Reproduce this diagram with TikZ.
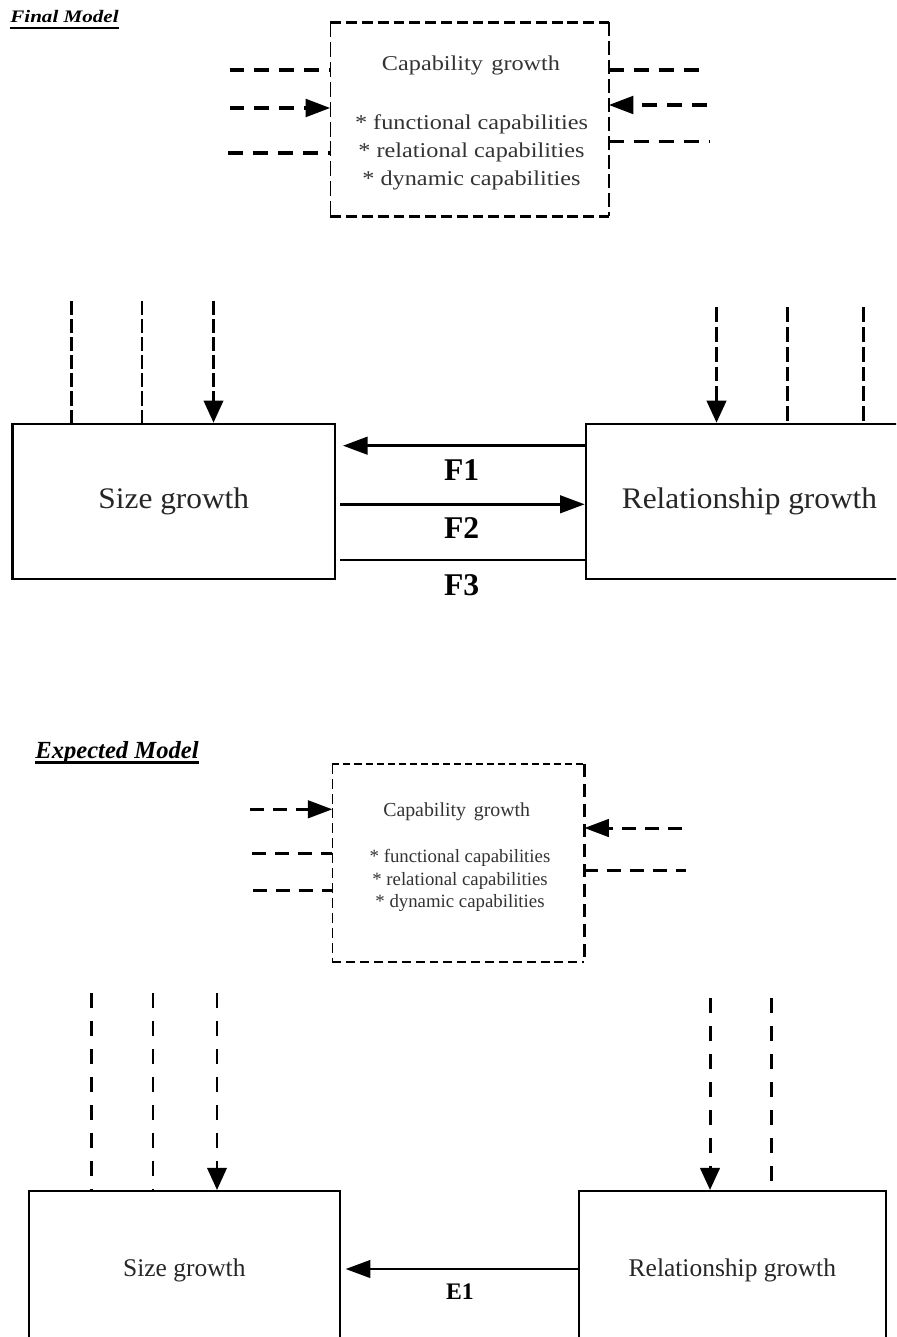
\documentclass[tikz,border=0pt]{standalone}
\usepackage{fontspec}
\setmainfont{Liberation Serif}
\newfontfamily\capwide[FakeStretch=1.15]{Liberation Serif}
\newfontfamily\boxwide[FakeStretch=1.05]{Liberation Serif}
\newfontfamily\headwide[FakeStretch=1.2]{Liberation Serif}
\usetikzlibrary{arrows.meta,calc}
\def\pxu{0.02cm}

\tikzset{
  heading/.style={inner sep=0,anchor=base west},
  growbox/.style={draw,line width=1.5pt,inner sep=0,text=black!85},
  growboxlow/.style={draw,line width=1.2pt,inner sep=0,text=black!85},
  capframe/.style={inner sep=0},
  captext/.style={inner sep=0,text=black!80},
  flabel/.style={inner sep=0,font=\bfseries\fontsize{18}{20}\selectfont},
  tip/.style={-{Triangle[length=14pt,width=10pt]}},
  tipv/.style={-{Triangle[length=12.5pt,width=11pt]}},
  link/.style={line width=1.5pt},
  linklow/.style={line width=1.3pt},
  % dashed feeds into the capability boxes
  feedtop/.style={line width=2pt,dash pattern=on 8.5pt off 5.7pt},
  feedlow/.style={line width=1.7pt,dash pattern=on 8pt off 5pt},
  % dashed feeds into the growth boxes
  vleft/.style={line width=1.4pt,dash pattern=on 8pt off 2.3pt},
  vright/.style={line width=1.7pt,dash pattern=on 8.5pt off 2.8pt},
  vlow/.style={line width=1.4pt,dash pattern=on 8.5pt off 7.4pt},
  vlowright/.style={line width=1.7pt,dash pattern=on 8.5pt off 7.4pt},
  % frame sides of the capability boxes
  frameA/.style={line width=1.7pt,dash pattern=on 6.2pt off 2.8pt},
  frameAleft/.style={line width=0.6pt,dash pattern=on 8.5pt off 2.8pt},
  frameAright/.style={line width=1.1pt,dash pattern=on 8pt off 2.8pt},
  frameBtop/.style={line width=1.1pt,dash pattern=on 4pt off 2.3pt},
  frameBleft/.style={line width=0.6pt,dash pattern=on 5.7pt off 2.8pt},
  frameBright/.style={line width=1.7pt,dash pattern=on 7.4pt off 4pt},
  frameBbottom/.style={line width=1.1pt,dash pattern=on 5.1pt off 2.8pt},
}

\begin{document}
\begin{tikzpicture}[x=0.02cm,y=-0.02cm]
\useasboundingbox (0,0) rectangle (896,1337);
\fill[white] (0,0) rectangle (896,1337);
\clip (0,0) rectangle (896,1337);

% ---------------- Final Model ----------------
\node[heading,font=\headwide\bfseries\itshape\fontsize{10}{12}\selectfont] (hfinal) at (10,22.7) {Final Model};
\draw[line width=1.2pt] ($(hfinal.base west)+(0,5.6)$) -- ($(hfinal.base east)+(0,5.6)$);

% capability box
\node[capframe,minimum width=277.8*\pxu,minimum height=193.3*\pxu] (cap1) at (469.5,119.35) {};
\draw[frameA] (cap1.north west) -- (cap1.north east);
\draw[frameA] (cap1.south west) -- (cap1.south east);
\draw[frameAleft] (cap1.north west) -- (cap1.south west);
\draw[frameAright] (cap1.north east) -- (cap1.south east);
\node[captext,font=\capwide\fontsize{12}{14}\selectfont] (cap1t) at (471,65) {Capability\hspace{0.4em}growth};
\node[captext,align=center,font=\capwide\fontsize{12}{15.9}\selectfont] (cap1l) at (471.5,152)
  {* functional capabilities\\ * relational capabilities\\ * dynamic capabilities};

\path (229.5,70) coordinate (a1) (229.5,108) coordinate (a2) (228,153) coordinate (a3);
\path (702.6,70) coordinate (b1) (707,105) coordinate (b2) (709,141.7) coordinate (b3);
\draw[feedtop] (a1) -- (a1 -| cap1.west);
\draw[feedtop,tip] (a2) -- (a2 -| cap1.west);
\draw[feedtop] (a3) -- (a3 -| cap1.west);
\draw[feedtop] (b1 -| cap1.east) -- (b1);
\draw[feedtop,tip] (b2) -- (b2 -| cap1.east);
\draw[feedtop] (b3 -| cap1.east) -- (b3);

% growth boxes
\node[growbox,minimum width=322.4*\pxu,minimum height=155*\pxu,font=\boxwide\fontsize{17}{20}\selectfont] (sg1) at (173.8,501.5) {Size growth};
\node[growbox,minimum width=327*\pxu,minimum height=155*\pxu,font=\boxwide\fontsize{17}{20}\selectfont] (rg1) at (749.5,501.5) {Relationship growth};

\path (71.7,301) coordinate (s1) (142,301) coordinate (s2) (213.5,301) coordinate (s3);
\path (716.5,307) coordinate (r1) (787,307) coordinate (r2) (863,307) coordinate (r3);
\draw[vleft] (s1) -- (s1 |- sg1.north);
\draw[vleft] (s2) -- (s2 |- sg1.north);
\draw[vleft,tipv] (s3) -- (s3 |- sg1.north);
\draw[vright,tipv] (r1) -- (r1 |- rg1.north);
\draw[vright] (r2) -- (r2 |- rg1.north);
\draw[vright] (r3) -- (r3 |- rg1.north);

\path (0,445.7) coordinate (yf1) (0,504.3) coordinate (yf2) (0,560) coordinate (yf3);
\draw[link,tip] (rg1.west |- yf1) -- ($(sg1.east |- yf1)+(6.7,0)$);
\draw[link,tip] ($(sg1.east |- yf2)+(4,0)$) -- (rg1.west |- yf2);
\draw[link] ($(sg1.east |- yf3)+(4,0)$) -- (rg1.west |- yf3);
\node[flabel] (F1) at (461.7,470) {F1};
\node[flabel] (F2) at (461.7,528) {F2};
\node[flabel] (F3) at (461.7,585) {F3};

% ---------------- Expected Model ----------------
\node[heading,font=\bfseries\itshape\fontsize{14}{16}\selectfont] (hexp) at (35,758.3) {Expected Model};
\draw[line width=1.2pt] ($(hexp.base west)+(0,4.2)$) -- ($(hexp.base east)+(0,4.2)$);

\node[capframe,minimum width=251.3*\pxu,minimum height=198*\pxu] (cap2) at (458.35,863) {};
\draw[frameBtop] (cap2.north west) -- (cap2.north east);
\draw[frameBbottom] (cap2.south west) -- (cap2.south east);
\draw[frameBleft] (cap2.north west) -- (cap2.south west);
\draw[frameBright] (cap2.north east) -- (cap2.south east);
\node[captext,font=\fontsize{11.3}{13}\selectfont] (cap2t) at (456.7,811.7) {Capability\hspace{0.4em}growth};
\node[captext,align=center,font=\fontsize{10.7}{12.8}\selectfont] (cap2l) at (460,880.5)
  {* functional capabilities\\ * relational capabilities\\ * dynamic capabilities};

\path (250,809.3) coordinate (c1) (252,853) coordinate (c2) (253,890) coordinate (c3);
\path (681.7,828) coordinate (d1) (686,870.7) coordinate (d2);
\draw[feedlow,tip] (c1) -- (c1 -| cap2.west);
\draw[feedlow] (c2) -- (c2 -| cap2.west);
\draw[feedlow] (c3) -- (c3 -| cap2.west);
\draw[feedlow,tip] (d1) -- (d1 -| cap2.east);
\draw[feedlow] (d2 -| cap2.east) -- (d2);

\node[growboxlow,minimum width=311.4*\pxu,minimum height=158*\pxu,font=\fontsize{14.5}{17}\selectfont] (sg2) at (184.3,1270) {Size growth};
\node[growboxlow,minimum width=306.7*\pxu,minimum height=158*\pxu,font=\fontsize{14.5}{17}\selectfont] (rg2) at (732.35,1270) {Relationship growth};

\path (91.4,993) coordinate (t1) (153,993) coordinate (t2) (217,993) coordinate (t3);
\path (710,998) coordinate (u1) (771.4,998) coordinate (u2);
\draw[vlow] (t1) -- (t1 |- sg2.north);
\draw[vlow] (t2) -- (t2 |- sg2.north);
\draw[vlow,tipv] (t3) -- (t3 |- sg2.north);
\draw[vlowright,tipv] (u1) -- (u1 |- rg2.north);
\draw[vlowright] (u2) -- (u2 |- rg2.north);

\path (0,1269) coordinate (ye1);
\draw[linklow,tip] (rg2.west |- ye1) -- ($(sg2.east |- ye1)+(4.6,0)$);
\node[inner sep=0,font=\bfseries\fontsize{13.5}{15}\selectfont] (E1) at (460,1292) {E1};
\end{tikzpicture}
\end{document}
